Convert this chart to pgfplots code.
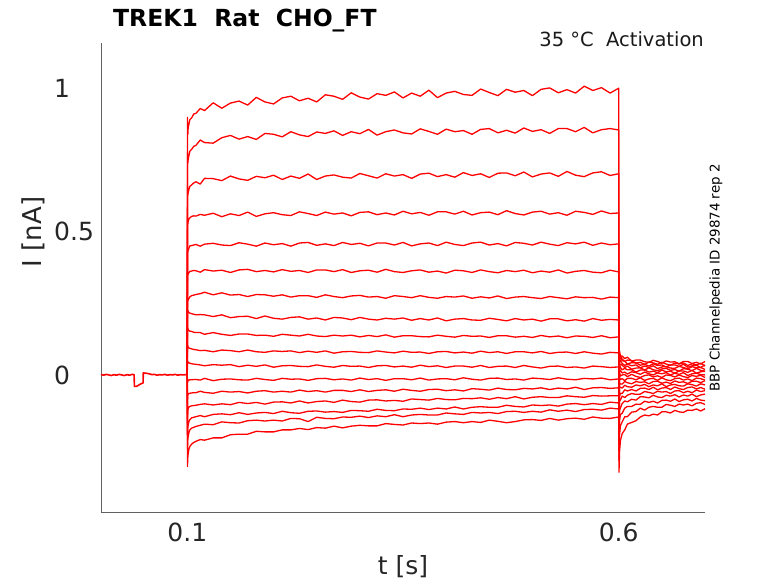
\documentclass[border=0pt]{standalone}
\usepackage{fontspec}
\setmainfont{DejaVu Sans}
\usepackage{pgfplots}
\pgfplotsset{compat=1.18}
\usepackage{pgfplotstable}
\definecolor{spine}{rgb}{0.38,0.38,0.38}

% time in ms, current in pA
\pgfplotstableread{
t a b c d e f g h i j k l m n o p q
100 0 0 0 0 0 0 0 0 0 0 0 0 0 0 0 0 0
100.2 900 780 660 550 440 360 270 225 165 105 50 -30 -90 -150 -210 -260 -320
100.6 840 740 628 528 430 350 258 226 162 100 46 -22 -72 -125 -185 -228 -290
101 862 752 637 536 436 353 262 222 158 97 44 -20 -68 -118 -175 -215 -275
102 878 768 650 546 444 358 268 218 155 94 42 -18 -65 -112 -162 -200 -258
103 892 782 659 549 451 362 273 216 153 93 41 -17 -64 -110 -156 -192 -250
105 898 788 664 554 452 363 277 214 152 91 39 -17 -63 -108 -150 -186 -242
107.5 912 799 671 556 454 365 279 212 149 89 38 -16 -62 -107 -148 -183 -236
110 914 802 675 555 456 364 281 210 148 88 37 -16 -62 -106 -146 -180 -232
115 931 821 667 561 450 359 284 211 148 85 35 -18 -57 -103 -142 -176 -226
120 924 812 687 558 457 368 289 210 142 86 32 -12 -61 -101 -146 -172 -228
130 951 810 686 565 460 363 280 204 148 81 36 -20 -64 -105 -138 -174 -220
140 932 829 679 553 454 366 287 210 142 87 34 -15 -57 -101 -136 -164 -220
150 950 837 695 563 452 358 279 200 138 85 36 -14 -60 -104 -139 -167 -209
160 957 824 685 557 462 367 281 204 143 81 29 -17 -58 -96 -132 -168 -207
170 943 833 680 569 457 369 274 205 143 87 34 -18 -63 -100 -138 -160 -207
180 970 823 694 554 450 361 281 197 138 81 30 -12 -57 -96 -133 -158 -197
190 954 844 689 563 461 365 280 206 139 79 35 -16 -55 -102 -131 -161 -199
200 947 841 698 567 455 360 275 198 135 84 27 -19 -60 -95 -135 -158 -199
210 968 832 683 560 459 368 280 195 142 82 32 -12 -57 -94 -127 -161 -192
220 974 850 695 557 450 362 272 201 139 84 33 -15 -60 -98 -132 -152 -192
230 958 839 687 570 461 365 277 203 136 78 30 -14 -53 -91 -134 -153 -187
240 967 833 702 564 463 358 277 195 142 83 29 -19 -58 -98 -127 -163 -191
250 954 849 683 557 453 367 271 199 136 79 35 -13 -55 -93 -126 -148 -184
260 979 844 695 569 458 367 280 192 134 84 30 -12 -60 -91 -130 -152 -186
270 974 853 699 562 452 361 274 201 139 76 27 -17 -54 -96 -128 -153 -179
280 963 837 691 566 463 368 270 199 136 81 33 -14 -54 -88 -131 -147 -185
290 986 850 688 556 456 358 276 193 139 82 30 -18 -58 -93 -124 -148 -179
300 971 843 704 568 460 364 278 201 133 79 31 -11 -52 -95 -125 -144 -176
310 964 858 696 570 451 366 272 195 138 78 26 -16 -58 -88 -127 -149 -178
320 983 838 688 560 461 359 274 192 134 84 32 -13 -54 -87 -120 -143 -178
330 977 850 703 566 461 369 268 198 140 80 33 -19 -52 -91 -124 -146 -170
340 989 856 695 559 454 361 277 195 132 77 28 -13 -57 -89 -125 -139 -173
350 968 846 700 572 463 358 274 199 137 83 31 -13 -50 -92 -119 -146 -175
360 985 842 687 563 451 364 270 191 137 79 27 -17 -54 -84 -120 -140 -168
370 974 860 702 568 458 367 277 197 134 80 34 -11 -57 -86 -116 -138 -170
380 995 851 705 558 461 359 271 192 133 75 29 -18 -51 -88 -121 -140 -168
390 969 841 693 570 452 363 268 199 139 81 32 -14 -50 -82 -116 -140 -172
400 985 859 700 570 464 356 274 189 135 82 26 -13 -55 -86 -119 -133 -165
410 991 850 691 562 456 366 272 195 132 77 31 -17 -52 -87 -112 -136 -163
420 980 854 707 572 452 364 276 197 138 80 31 -10 -56 -82 -119 -138 -167
430 977 841 697 559 461 358 268 192 135 76 27 -15 -48 -83 -113 -131 -163
440 999 858 703 567 464 367 273 191 136 83 33 -18 -50 -80 -111 -133 -166
450 987 861 690 569 454 361 269 198 131 78 26 -12 -53 -85 -113 -131 -158
460 976 846 705 560 459 357 276 194 137 81 30 -11 -46 -79 -113 -135 -162
470 998 855 706 574 451 365 267 189 137 75 31 -16 -51 -83 -106 -128 -167
480 988 845 696 564 463 361 272 197 132 81 26 -14 -52 -76 -110 -127 -163
490 994 863 709 559 460 366 274 192 135 81 33 -18 -47 -84 -112 -131 -157
500 976 851 692 569 454 357 270 195 131 77 28 -11 -49 -78 -105 -127 -156
510 998 857 702 572 464 363 267 188 138 82 24 -13 -45 -76 -107 -130 -159
520 1003 844 706 562 457 359 274 196 133 75 30 -16 -51 -79 -105 -122 -152
530 986 861 694 567 452 367 270 196 136 79 31 -10 -46 -79 -109 -127 -158
540 997 861 711 558 462 356 266 189 130 80 26 -15 -49 -73 -102 -123 -153
550 985 850 698 572 458 362 273 193 136 75 28 -17 -43 -76 -100 -128 -151
560 1009 865 693 568 464 365 270 188 135 81 24 -12 -51 -78 -104 -121 -155
570 994 846 706 561 453 359 271 197 131 76 31 -14 -45 -72 -100 -120 -147
580 1004 857 710 573 461 357 265 191 137 73 29 -11 -44 -74 -103 -123 -151
590 985 861 697 564 455 366 272 194 130 79 26 -17 -47 -73 -95 -116 -152
600 1002 856 703 566 458 360 270 192 133 77 28 -14 -45 -73 -98 -119 -147
600.3 -340 -300 -265 -235 -205 -175 -150 -125 -105 -85 -65 -45 -30 -15 0 15 30
601 -267 -208 -157 -124 -91 -74 -44 -29 -10 7 17 35 35 48 59 66 82
602 -229 -177 -138 -115 -87 -64 -43 -32 -16 -4 16 26 38 50 59 67 66
604 -205 -164 -134 -100 -74 -65 -46 -32 -13 0 7 18 34 40 50 55 66
607 -192 -146 -116 -91 -79 -52 -36 -23 -20 1 10 23 26 33 48 47 57
610 -172 -146 -110 -94 -71 -56 -41 -27 -12 -6 3 18 31 38 38 52 62
615 -166 -130 -110 -85 -65 -51 -43 -31 -12 2 11 18 20 32 43 50 48
620 -160 -128 -102 -88 -68 -56 -35 -23 -17 -5 8 10 24 35 42 41 52
625 -147 -116 -103 -76 -67 -47 -38 -26 -10 -9 2 17 25 25 34 44 52
630 -140 -123 -92 -77 -58 -46 -33 -24 -19 -2 10 17 17 31 37 37 46
635 -143 -113 -96 -80 -61 -51 -41 -31 -14 0 4 10 25 26 31 45 44
640 -137 -110 -92 -71 -65 -43 -35 -23 -12 -7 0 13 18 32 39 42 51
645 -140 -113 -98 -77 -57 -52 -38 -22 -19 -3 7 8 15 22 33 37 47
650 -129 -113 -89 -79 -60 -46 -31 -29 -10 -9 4 17 21 28 35 44 41
655 -129 -103 -88 -71 -58 -44 -41 -25 -17 0 8 11 23 29 28 38 49
660 -133 -106 -92 -74 -65 -51 -35 -30 -20 -2 0 13 16 24 35 34 45
665 -124 -110 -84 -69 -56 -42 -33 -21 -13 -7 6 6 19 23 35 41 46
670 -129 -102 -93 -77 -55 -48 -38 -26 -11 0 2 14 13 30 30 38 39
675 -131 -105 -87 -70 -62 -51 -39 -24 -18 -6 8 14 22 26 37 42 47
680 -123 -102 -85 -74 -57 -44 -31 -30 -14 -9 -2 9 20 21 27 33 47
685 -124 -108 -91 -67 -62 -42 -34 -22 -20 -2 4 16 15 29 32 39 40
690 -119 -99 -82 -76 -53 -49 -39 -22 -11 -5 6 6 23 25 34 35 44
695 -126 -97 -88 -70 -58 -44 -31 -27 -13 -1 1 11 16 26 26 41 38
700 -118 -103 -90 -67 -55 -50 -35 -20 -18 -9 0 13 13 19 35 31 47
}\traces

\begin{document}
\begin{tikzpicture}[x=1pt,y=1pt]
\useasboundingbox (0,0) rectangle (778,583);
\begin{axis}[
  at={(101pt,71pt)}, anchor=south west,
  scale only axis, width=604pt, height=469pt,
  xmin=0, xmax=700, ymin=-479, ymax=1160,
  axis x line*=bottom, axis y line*=left,
  axis line style={spine, line width=0.8pt, -},
  xtick={100,600}, xticklabels={0.1,0.6},
  ytick={0,500,1000}, yticklabels={0,0.5,1},
  major tick length=0pt,
  tick style={draw=none},
  /pgf/number format/assume math mode=true,
  ticklabel style={font=\fontsize{25}{30}\selectfont, text=black!85},
  xticklabel style={yshift=-7pt},
  yticklabel style={anchor=west, inner sep=0pt, xshift=-47pt},
  tr/.style={color=red, line width=1.3pt, line join=round, mark=none},
  clip=false,
]
\addplot[tr, line width=1.6pt] coordinates {
(0,2)(3,-1)(6,2)(9,0)(12,-2)(15,1)(18,-1)(21,2)(24,0)(27,-2)(30,1)(33,-1)(36,2)(38.4,1)
(38.7,-40)(41,-40)(43,-37)(45,-33)(47,-30)(48.8,-28)
(49,7)(52,6)(56,4)(59,1)(62,2)(65,-1)(68,1)(71,0)(74,2)(77,-1)(80,1)(83,0)(86,2)(89,-1)(92,1)(95,0)(98,1)(100,0)};
\addplot[tr] table[x=t,y=a]{\traces};
\addplot[tr] table[x=t,y=b]{\traces};
\addplot[tr] table[x=t,y=c]{\traces};
\addplot[tr] table[x=t,y=d]{\traces};
\addplot[tr] table[x=t,y=e]{\traces};
\addplot[tr] table[x=t,y=f]{\traces};
\addplot[tr] table[x=t,y=g]{\traces};
\addplot[tr] table[x=t,y=h]{\traces};
\addplot[tr] table[x=t,y=i]{\traces};
\addplot[tr] table[x=t,y=j]{\traces};
\addplot[tr] table[x=t,y=k]{\traces};
\addplot[tr] table[x=t,y=l]{\traces};
\addplot[tr] table[x=t,y=m]{\traces};
\addplot[tr] table[x=t,y=n]{\traces};
\addplot[tr] table[x=t,y=o]{\traces};
\addplot[tr] table[x=t,y=p]{\traces};
\addplot[tr] table[x=t,y=q]{\traces};
\end{axis}
\node[anchor=base west, font=\fontsize{23.5}{28}\selectfont\bfseries, inner sep=0pt] at (113,556) {TREK1\ \ Rat\ \ CHO\_FT};
\node[anchor=base east, font=\fontsize{19.5}{23}\selectfont, inner sep=0pt, text=black!90] at (704,536) {35 °C\ \ Activation};
\node[rotate=90, font=\fontsize{13.4}{16}\selectfont, inner sep=0pt] at (716,305) {BBP Channelpedia ID 29874 rep 2};
\node[rotate=90, font=\fontsize{26}{30}\selectfont, inner sep=0pt, text=black!85] at (33,351) {I [nA]};
\node[font=\fontsize{25}{30}\selectfont, inner sep=0pt, text=black!85] at (403,16) {t [s]};
\end{tikzpicture}
\end{document}
